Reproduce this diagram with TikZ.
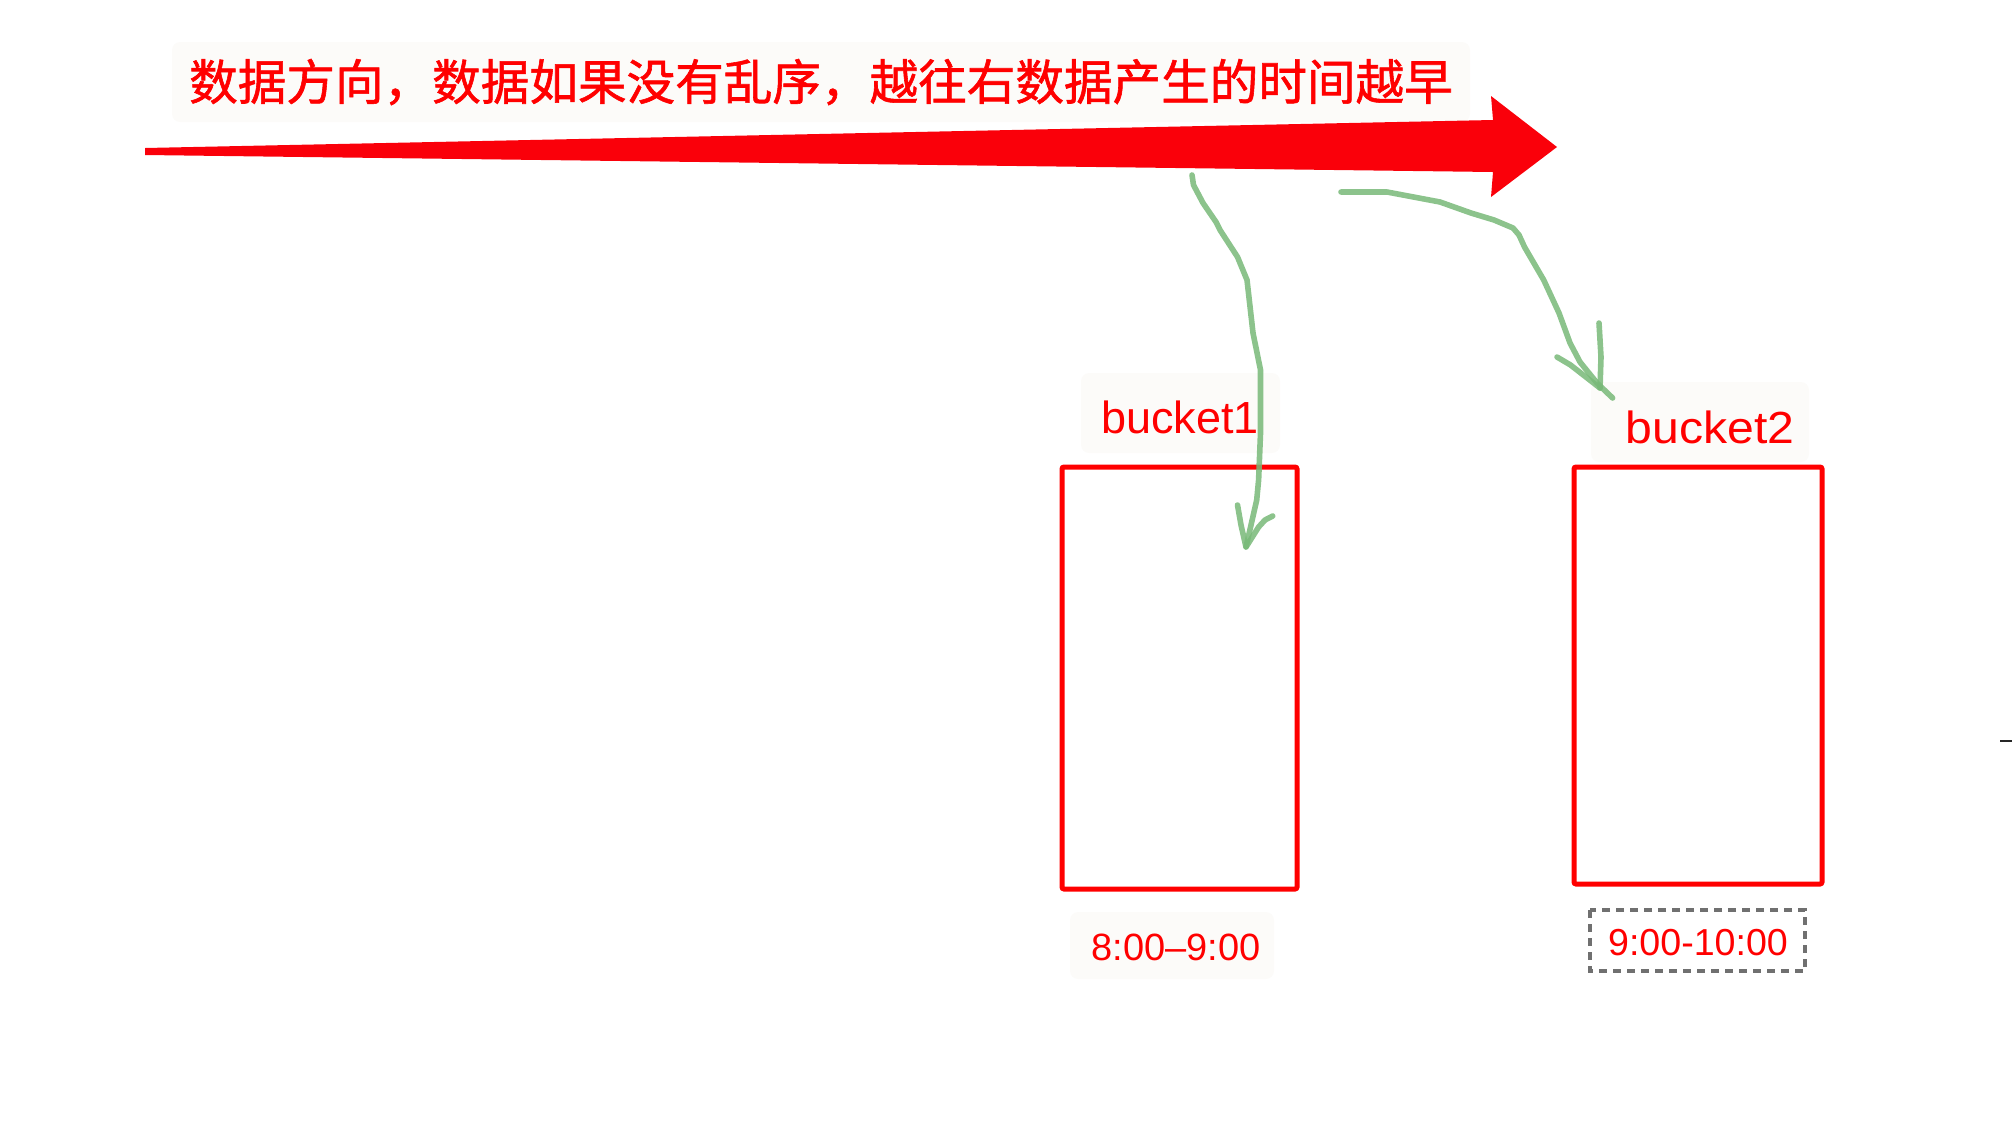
\documentclass[tikz,border=0pt]{standalone}
\usepackage{fontspec}
\setmainfont{Liberation Sans}
\newfontfamily\cjk[FakeBold=1.2]{Noto Sans CJK SC}
\definecolor{arrred}{RGB}{250,0,10}
\definecolor{txtred}{RGB}{255,0,0}
\definecolor{penGreen}{RGB}{120,185,120}
\definecolor{paper}{RGB}{252,251,249}
\definecolor{dashgray}{RGB}{112,112,112}
\tikzset{
  bucketbox/.style={draw=txtred, line width=2.5pt, rounded corners=1pt},
  lblbg/.style={fill=paper, rounded corners=4pt},
  pen/.style={draw=penGreen, line width=2.8pt, line cap=round, line join=round, opacity=0.85},
  lbl/.style={text=txtred, inner sep=0pt, anchor=base},
}
\begin{document}
\begin{tikzpicture}[x=0.5pt,y=-0.5pt]
\useasboundingbox (0,0) rectangle (2012,1136);
% backgrounds of labels
\fill[lblbg] (172,42) rectangle (1470,122);
\fill[lblbg] (1081,373) rectangle (1280,453);
\fill[lblbg] (1591,382) rectangle (1809,462);
\fill[lblbg] (1070,912) rectangle (1274,979);
% title
\node[lbl, font=\cjk\fontsize{24.3}{29}\selectfont] (title) at (821,100) {数据方向，数据如果没有乱序，越往右数据产生的时间越早};
% big arrow
\fill[arrred] (145,148) -- (1493,120) -- (1491,96) -- (1557,147) -- (1491,197) -- (1493,172) -- (145,155) -- cycle;
% buckets
\node[bucketbox, minimum width=117.5pt, minimum height=211pt, inner sep=0pt] (b1) at (1179.5,678) {};
\node[bucketbox, minimum width=124pt, minimum height=208.5pt, inner sep=0pt] (b2) at (1698,675.5) {};
\node[lbl, font=\fontsize{22.5}{27}\selectfont] (l1) at (1180,433) {bucket1};
\node[lbl, font=\fontsize{22.5}{27}\selectfont, xscale=1.07] (l2) at (1710,443) {bucket2};
% time labels
\node[lbl, font=\fontsize{19}{23}\selectfont] (t1) at (1176,960) {8:00–9:00};
\node[lbl, font=\fontsize{18.8}{23}\selectfont] (t2) at (1698,955) {9:00-10:00};
\draw[dashgray, line width=1.6pt, dash pattern=on 4pt off 3pt] (1590,910) rectangle (1805,971);
% small mark at right edge
\draw[black!85, line width=1pt] (2000,741) -- (2012,741);
% green hand-drawn curves
\coordinate (s1) at (1192,175);
\coordinate (e1) at (1246,547);
\draw[pen] (s1) -- (1193.5,185) -- (1203,203) -- (1216,222) -- (1220,230) -- (1237.5,257) -- (1247,280) -- (1253,333) -- (1260.5,370) -- (1260.5,433) -- (1258.6,480) -- (1256.7,500) -- (e1);
\draw[pen] (1237.5,505) -- (1241,525) -- (e1) -- (1258.6,527) -- (1265,520) -- (1272.7,516);
\coordinate (s2) at (1341,192);
\coordinate (e2) at (1612.6,398);
\draw[pen] (s2) -- (1387,192) -- (1440,202) -- (1471,213) -- (1494,220) -- (1513,228) -- (1519,235) -- (1524.5,247) -- (1543.7,280) -- (1559,313) -- (1570,343) -- (1580,362) -- (1597,383) -- (e2);
\draw[pen] (1599,323) -- (1601,357) -- (1600,388);
\draw[pen] (1557,357) -- (1570.5,365) -- (1600,388);
\end{tikzpicture}
\end{document}
